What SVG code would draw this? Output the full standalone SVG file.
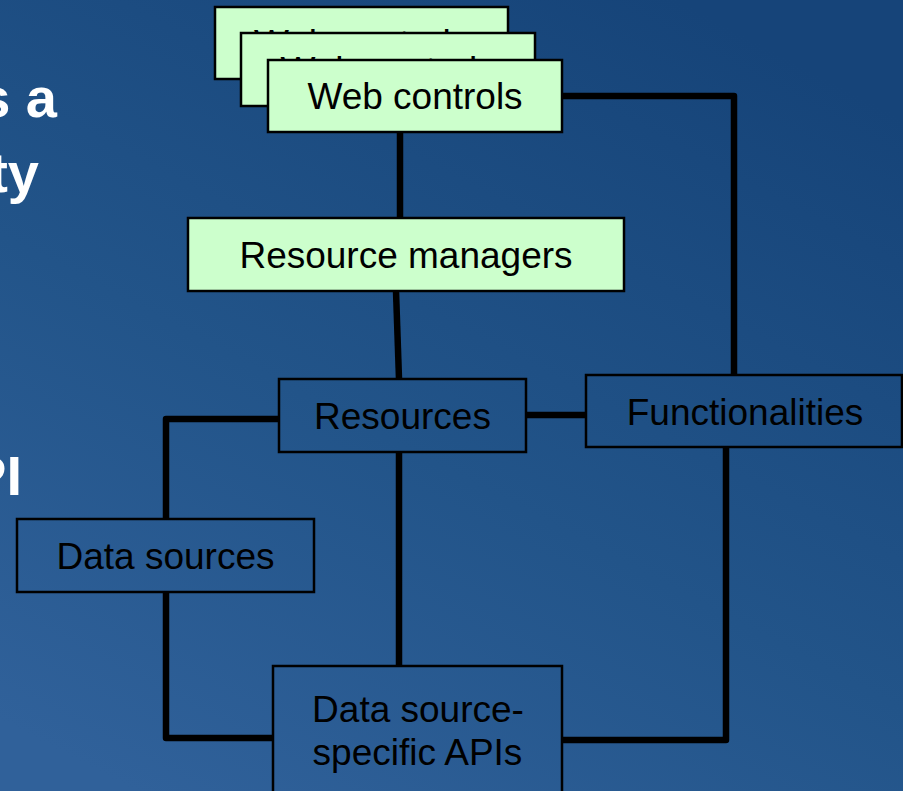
<svg xmlns="http://www.w3.org/2000/svg" width="903" height="791" viewBox="0 0 903 791">
  <defs>
    <linearGradient id="bg" x1="0.75" y1="0" x2="0.15" y2="1">
      <stop offset="0" stop-color="#164479"/>
      <stop offset="0.55" stop-color="#225489"/>
      <stop offset="1" stop-color="#30619a"/>
    </linearGradient>
    <style>
      .green { fill: #ccffcc; stroke: #000; stroke-width: 2.5; }
      .blue { fill: none; stroke: #000; stroke-width: 2.5; }
      .lbl { font-family: "Liberation Sans", Arial, sans-serif; font-size: 37px; fill: #000; text-anchor: middle; }
      .side { font-family: "Liberation Sans", Arial, sans-serif; font-size: 56px; font-weight: bold; fill: #fff; text-anchor: end; }
      .conn { fill: none; stroke: #000; stroke-width: 6.5; stroke-linejoin: round; }
    </style>
  </defs>
  <rect x="0" y="0" width="903" height="791" fill="url(#bg)"/>

  <g id="side-text">
    <text class="side" x="57" y="117">s a</text>
    <text class="side" x="39" y="192">ty</text>
    <text class="side" x="22" y="495">PI</text>
  </g>

  <g id="connectors">
    <line class="conn" x1="400" y1="132" x2="400" y2="218"/>
    <line class="conn" x1="396" y1="291" x2="399" y2="379"/>
    <polyline class="conn" points="562,96 734,96 734,376"/>
    <line class="conn" x1="526" y1="415" x2="586" y2="415"/>
    <polyline class="conn" points="279,419 166,419 166,519"/>
    <polyline class="conn" points="166,592 166,738 273,738"/>
    <line class="conn" x1="399" y1="452" x2="399" y2="666"/>
    <polyline class="conn" points="562,740 726,740 726,447"/>
  </g>

  <g id="web-controls-3">
    <rect class="green" x="215" y="7" width="293" height="72"/>
    <text class="lbl" x="361.5" y="56">Web controls</text>
  </g>
  <g id="web-controls-2">
    <rect class="green" x="241" y="33" width="294" height="73"/>
    <text class="lbl" x="388" y="83">Web controls</text>
  </g>
  <g id="web-controls">
    <rect class="green" x="268" y="60" width="294" height="72"/>
    <text class="lbl" x="415" y="109">Web controls</text>
  </g>

  <g id="resource-managers">
    <rect class="green" x="188" y="218" width="436" height="73"/>
    <text class="lbl" x="406" y="268">Resource managers</text>
  </g>

  <g id="resources">
    <rect class="blue" x="279" y="379" width="247" height="73"/>
    <text class="lbl" x="402.5" y="429">Resources</text>
  </g>

  <g id="functionalities">
    <rect class="blue" x="586" y="375" width="316" height="72"/>
    <text class="lbl" x="745" y="425">Functionalities</text>
  </g>

  <g id="data-sources">
    <rect class="blue" x="17" y="519" width="297" height="73"/>
    <text class="lbl" x="165.5" y="569">Data sources</text>
  </g>

  <g id="data-source-apis">
    <rect class="blue" x="273" y="666" width="289" height="140"/>
    <text class="lbl" x="418" y="722">Data source-</text>
    <text class="lbl" x="417.5" y="765">specific APIs</text>
  </g>
</svg>
